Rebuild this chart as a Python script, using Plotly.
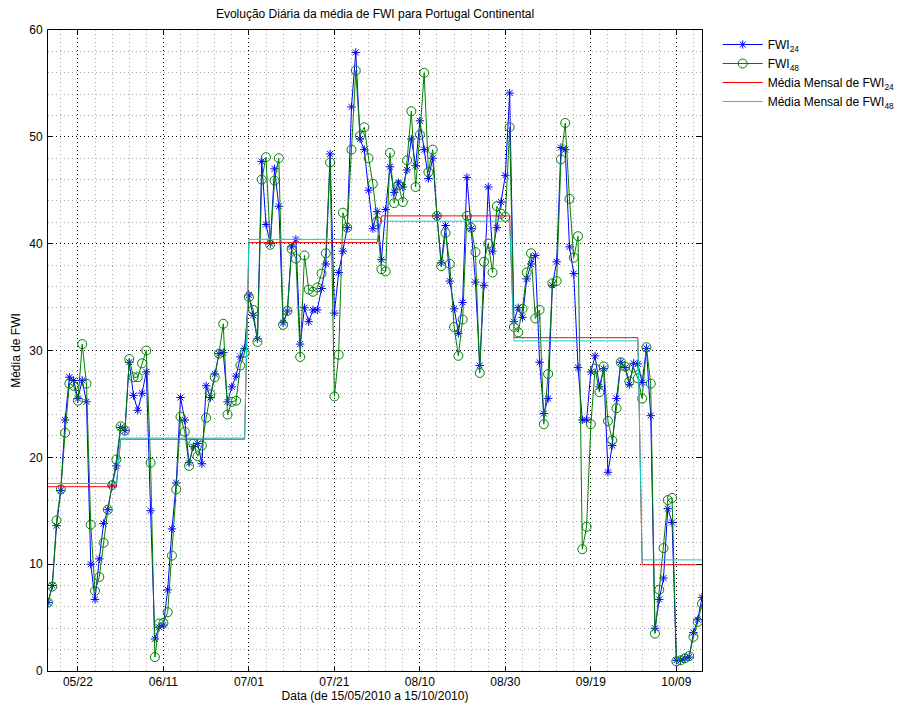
import plotly.graph_objects as go
import pandas as pd

dates = pd.date_range("2010-05-15", "2010-10-15", freq="D")

fwi24 = [
    6.4, 8.0, 13.6, 16.9, 23.5, 27.5, 27.2, 25.5, 27.2, 25.2,
    10.0, 6.7, 10.5, 13.8, 15.1, 17.4, 19.2, 22.8, 22.5, 28.9,
    25.8, 24.4, 26.0, 28.0, 15.0, 3.0, 4.1, 4.3, 7.6, 13.3,
    17.6, 25.6, 23.5, 19.5, 21.0, 21.3, 19.4, 26.7, 25.6, 27.8,
    29.7, 29.8, 25.2, 26.6, 27.6, 29.4, 30.2, 35.2, 33.3, 31.1,
    47.7, 41.8, 40.0, 47.0, 43.5, 32.6, 33.7, 39.7, 40.4, 30.6,
    34.0, 32.7, 33.8, 33.8, 35.8, 38.1, 48.4, 33.5, 37.3, 39.3,
    41.5, 52.8, 57.9, 49.8, 48.8, 45.0, 41.4, 43.0, 38.5, 43.2,
    47.2, 44.8, 45.7, 45.3, 46.9, 49.8, 47.3, 51.5, 48.8, 46.1,
    48.0, 42.6, 38.2, 41.7, 36.5, 33.9, 31.6, 34.5, 46.2, 41.4,
    36.4, 28.6, 36.1, 45.3, 39.3, 41.5, 43.9, 46.4, 54.1, 32.7,
    34.0, 33.1, 36.7, 38.1, 38.9, 28.9, 24.1, 25.5, 36.1, 38.3,
    49.0, 48.8, 39.7, 37.2, 28.4, 23.5, 23.5, 28.0, 29.5, 26.6,
    28.3, 18.6, 21.1, 25.5, 28.9, 28.4, 26.8, 28.8, 28.75, 27.0,
    30.2, 23.9, 4.0, 6.7, 8.7, 15.2, 13.9, 1.0, 1.0, 1.2,
    1.3, 3.6, 4.8, 6.9,
]

fwi48 = [
    6.4, 7.9, 14.1, 17.0, 22.3, 26.9, 26.7, 25.3, 30.6, 26.9,
    13.7, 7.5, 8.8, 12.0, 15.1, 17.4, 19.8, 22.9, 22.5, 29.2,
    27.5, 27.5, 28.8, 30.0, 19.5, 1.3, 4.45, 4.5, 5.5, 10.8,
    17.0, 23.8, 22.4, 19.2, 21.3, 20.1, 21.1, 23.7, 25.9, 27.5,
    29.7, 32.5, 24.0, 25.2, 25.3, 28.6, 29.8, 35.0, 33.8, 30.8,
    46.0, 48.1, 39.9, 45.9, 48.0, 32.4, 33.7, 39.5, 38.6, 29.4,
    38.9, 35.7, 35.5, 35.9, 37.2, 39.1, 47.6, 25.7, 29.6, 42.9,
    41.5, 48.8, 56.2, 50.1, 50.9, 48.0, 45.6, 42.1, 37.6, 37.4,
    48.5, 43.8, 45.5, 43.9, 47.8, 52.4, 45.3, 50.2, 56.0, 46.7,
    48.8, 42.6, 37.9, 41.0, 38.1, 32.2, 29.5, 32.9, 42.6, 41.5,
    39.2, 27.9, 38.3, 40.0, 37.3, 43.5, 42.8, 42.5, 50.9, 32.2,
    31.7, 33.9, 37.3, 39.1, 33.0, 33.8, 23.1, 27.8, 36.3, 36.5,
    47.9, 51.3, 44.2, 38.7, 40.7, 11.4, 13.5, 23.1, 28.3, 26.1,
    28.5, 23.4, 21.6, 24.6, 28.9, 28.5, 27.1, 28.4, 27.4, 25.5,
    30.3, 26.9, 3.5, 7.6, 11.5, 16.0, 16.2, 0.9, 1.0, 1.2,
    1.4, 3.2, 4.6, 6.3,
]

months = [5, 6, 7, 8, 9, 10]
mean24_month = [17.25, 21.7, 40.1, 42.6, 31.2, 9.95]
mean48_month = [17.55, 21.8, 40.4, 42.1, 30.9, 10.4]

m24 = dict(zip(months, mean24_month))
m48 = dict(zip(months, mean48_month))
mean24_daily = [m24[d.month] for d in dates]
mean48_daily = [m48[d.month] for d in dates]

FONT = "Liberation Sans, Arial, Helvetica, sans-serif"

fig = go.Figure()
fig.add_trace(go.Scatter(
    x=dates, y=fwi24, mode="lines+markers", name="FWI<sub>24</sub>",
    line=dict(color="#0000FF", width=1),
    marker=dict(symbol="asterisk-open", size=7, color="#0000FF",
                line=dict(color="#0000FF", width=1)),
))
fig.add_trace(go.Scatter(
    x=dates, y=fwi48, mode="lines+markers", name="FWI<sub>48</sub>",
    line=dict(color="#008000", width=1),
    marker=dict(symbol="circle-open", size=9, color="#008000",
                line=dict(color="#008000", width=1)),
))
fig.add_trace(go.Scatter(
    x=dates, y=mean24_daily, mode="lines", name="Média Mensal de FWI<sub>24</sub>",
    line=dict(color="#FF0000", width=1),
))
fig.add_trace(go.Scatter(
    x=dates, y=mean48_daily, mode="lines", name="Média Mensal de FWI<sub>48</sub>",
    line=dict(color="#00D5D5", width=1),
))

DAY = 86400000
axis_common = dict(
    showline=True, linecolor="black", linewidth=1, mirror="ticks",
    ticks="inside", ticklen=5, tickcolor="black",
    showgrid=True, gridcolor="black", griddash="1px,3px", gridwidth=1,
    zeroline=False, automargin=False,
    tickfont=dict(family=FONT, size=12, color="black"),
)

fig.update_xaxes(
    type="date", range=[dates[0], dates[-1]],
    tick0="2010-05-22", dtick=20 * DAY, tickformat="%m/%d",
    minor=dict(tick0="2010-05-22", dtick=4 * DAY, showgrid=True,
               gridcolor="#aaaaaa", griddash="1px,3px", ticks=""),
    title=dict(text="Data (de 15/05/2010 a 15/10/2010)", standoff=0,
               font=dict(family=FONT, size=12, color="black")),
    **axis_common,
)
fig.update_yaxes(
    range=[0, 60], dtick=10, tick0=0,
    minor=dict(dtick=2, showgrid=True, gridcolor="#aaaaaa",
               griddash="1px,3px", ticks=""),
    ticklabelstandoff=2,
    title=dict(text="Média de FWI", standoff=6,
               font=dict(family=FONT, size=12, color="black")),
    **axis_common,
)

# the page body adds an 8px offset, so the figure is sized to the remaining viewport
W, H = 902, 697
fig.update_layout(
    width=W, height=H,
    margin=dict(l=40, r=208, t=22, b=34, pad=0, autoexpand=False),
    paper_bgcolor="white", plot_bgcolor="white",
    font=dict(family=FONT, size=12, color="black"),
    title=dict(text="Evolução Diária da média de FWI para Portugal Continental",
               x=0.5, xref="paper", xanchor="center",
               y=1 - 6 / H, yref="container", yanchor="middle",
               font=dict(family=FONT, size=12, color="black")),
    legend=dict(x=1.024, y=1.0, xanchor="left", yanchor="top",
                bgcolor="rgba(0,0,0,0)", borderwidth=0,
                itemwidth=40, tracegroupgap=0,
                font=dict(family=FONT, size=12, color="black")),
    showlegend=True,
)

fig.write_html("out.html")
